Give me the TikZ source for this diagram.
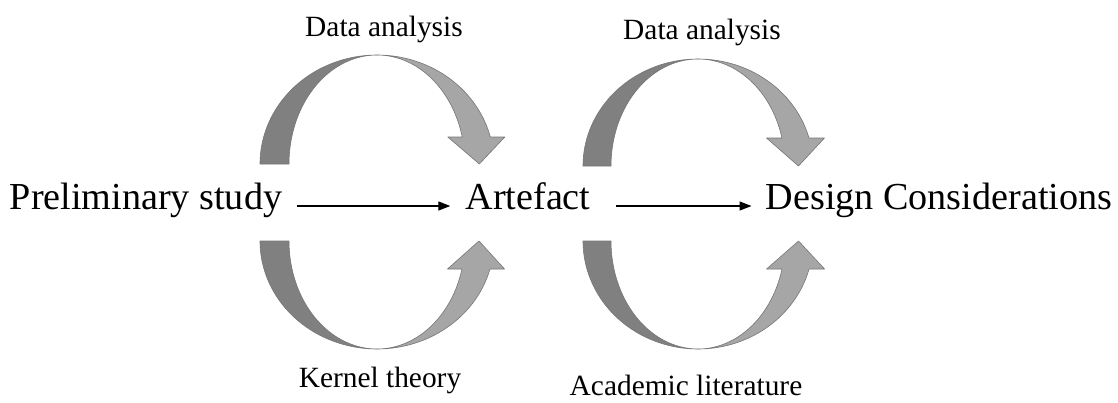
\documentclass[tikz,border=0pt]{standalone}
\usepackage{fontspec}
\setmainfont{Liberation Serif}
\usetikzlibrary{arrows.meta}
\definecolor{darkband}{HTML}{808080}
\definecolor{lightband}{HTML}{A6A6A6}
\definecolor{bandline}{HTML}{767676}
\tikzset{
 bigtext/.style={inner sep=0pt, anchor=base, font=\fontsize{38.3}{40}\selectfont},
 smalltext/.style={inner sep=0pt, anchor=base, font=\fontsize{29.5}{32}\selectfont},
 flow/.style={line width=1.2bp, -{Triangle[length=12bp,width=9bp]}},
 backband/.style={fill=darkband, draw=bandline, line width=0.6bp, line join=round},
 frontband/.style={fill=lightband, draw=bandline, line width=0.6bp, line join=round},
}
% #1 cx, #2 feet y, #3 outer rx, #4 inner rx, #5 ry, #6 direction (1 up, -1 down),
% #7 head depth, #8 head half width, #9 tip offset
\newcommand{\bentarrow}[9]{%
 \pgfmathsetmacro\baAng{360-asin(#7/#5)}%
 \pgfmathsetmacro\baCos{cos(\baAng)}%
 \pgfmathsetmacro\baOx{#1+#3*\baCos}%
 \pgfmathsetmacro\baIx{#1+#4*\baCos}%
 \pgfmathsetmacro\baHc{(\baOx+\baIx)/2}%
 \pgfmathsetmacro\baHy{#2-#6*#7}%
 \draw[backband] plot[domain=180:270,samples=50] ({#1+#3*cos(\x)},{#2+#6*#5*sin(\x)})
   -- plot[domain=270:180,samples=50] ({#1+#4*cos(\x)},{#2+#6*#5*sin(\x)}) -- cycle;
 \draw[frontband] plot[domain=270:\baAng,samples=50] ({#1+#3*cos(\x)},{#2+#6*#5*sin(\x)})
   -- ({\baHc+#8},\baHy) -- ({\baHc+#9},#2) -- ({\baHc-#8},\baHy)
   -- plot[domain=\baAng:270,samples=50] ({#1+#4*cos(\x)},{#2+#6*#5*sin(\x)}) -- cycle;
}
\begin{document}
\begin{tikzpicture}[x=1bp,y=-1bp]
\useasboundingbox (0,0) rectangle (1118,402);
\fill[white] (0,0) rectangle (1118,402);
\bentarrow{377}{164}{117}{88}{109}{1}{27}{28.5}{3}
\bentarrow{377}{241}{117}{88}{108}{-1}{28}{28.5}{3}
\bentarrow{698}{166}{115}{87}{107}{1}{28}{29}{3}
\bentarrow{698}{241}{115}{87}{108}{-1}{28}{29}{3}
\node[bigtext] (pre) at (146,209) {Preliminary study};
\node[bigtext] (art) at (528,209) {Artefact};
\node[bigtext] (des) at (939,209) {Design Considerations};
\node[smalltext] (da1) at (384,36) {Data analysis};
\node[smalltext] (da2) at (702,39) {Data analysis};
\node[smalltext] (kt) at (380,387) {Kernel theory};
\node[smalltext] (al) at (686,395) {Academic literature};
\draw[flow] ([xshift=15bp,yshift=3bp]pre.base east) -- ([xshift=-15bp,yshift=3bp]art.base west);
\draw[flow] ([xshift=25bp,yshift=3bp]art.base east) -- ([xshift=-14bp,yshift=3bp]des.base west);
\end{tikzpicture}
\end{document}
